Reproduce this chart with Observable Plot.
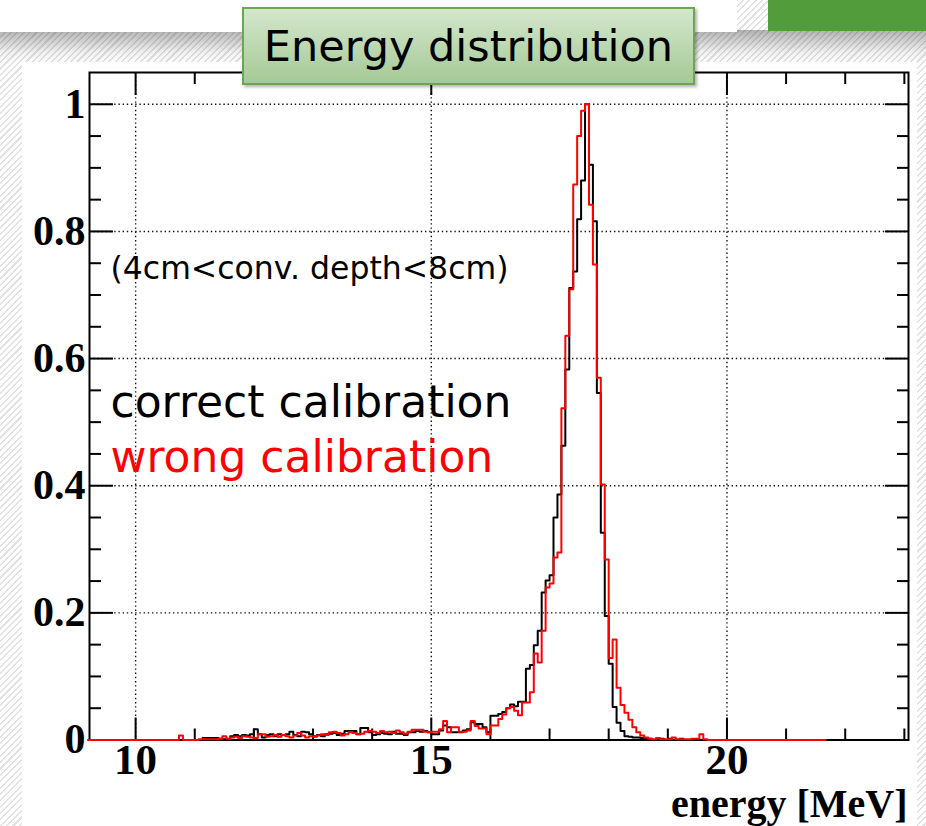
<!DOCTYPE html>
<html><head><meta charset="utf-8">
<script src="https://cdn.jsdelivr.net/npm/d3@7"></script>
<script src="https://cdn.jsdelivr.net/npm/@observablehq/plot@0.6"></script>
<style>
html,body{margin:0;padding:0;}
body{width:926px;height:826px;position:relative;overflow:hidden;
 background:repeating-linear-gradient(135deg,#ffffff 0px,#ffffff 3px,#e2e2e2 3px,#e2e2e2 4.5px);}
#shadow{position:absolute;left:0;top:30px;width:926px;height:34px;background:linear-gradient(to bottom,rgba(0,0,0,0.30),rgba(0,0,0,0.06) 65%,rgba(0,0,0,0));}
#whitetop{position:absolute;left:0;top:0;width:737px;height:32px;background:#fff;}
#greentop{position:absolute;left:768px;top:0;width:158px;height:31px;background:#539c3b;}
#panel{position:absolute;left:22px;top:62px;width:895px;height:764px;background:#fff;}
#chart{position:absolute;left:0;top:0;}
#title{position:absolute;left:242px;top:7px;width:449px;height:74px;border:2px solid #6aa84f;
 background:linear-gradient(#d4e7cc,#a5c996);box-shadow:2px 2px 3px rgba(0,0,0,0.3);
 font-family:"DejaVu Sans";font-size:43px;line-height:74px;text-align:center;color:#000;}
</style></head><body>
<div id="shadow"></div><div id="whitetop"></div><div id="greentop"></div><div id="panel"></div>
<div id="chart"></div>
<div id="title">Energy distribution</div>
<script>
// Histogram binning: bins of 1/15 MeV, first listed bin starts at 158/15 MeV
const binWidth = 1 / 15;
const binStart = 158 / 15;
const histRange = [9.2, 21.667];
// correct calibration (black), normalised to peak = 1
const correctCal = [
 0,0,0,0,0,0,0,0,0,0.003,
 0.003,0.003,0.003,0.002,0.001,0.002,0.006,0.008,0.006,0.008,
 0.007,0.009,0.017,0.009,0.004,0.008,0.009,0.006,0.009,0.008,
 0.009,0.013,0.008,0.006,0.013,0.012,0.009,0.006,0.008,0.006,
 0.009,0.010,0.011,0.008,0.010,0.014,0.014,0.014,0.009,0.019,
 0.019,0.012,0.008,0.009,0.011,0.010,0.009,0.013,0.010,0.010,
 0.008,0.012,0.012,0.014,0.013,0.014,0.012,0.009,0.009,0.015,
 0.023,0.020,0.012,0.012,0.012,0.015,0.017,0.028,0.025,0.025,
 0.020,0.012,0.038,0.038,0.041,0.044,0.050,0.056,0.053,0.060,
 0.060,0.112,0.118,0.149,0.172,0.232,0.251,0.259,0.350,0.386,
 0.463,0.583,0.711,0.737,0.819,0.880,1.000,0.905,0.816,0.546,
 0.326,0.195,0.120,0.052,0.027,0.014,0.006,0.005,0.004,0.004,
 0.003,0.003,0.002,0,0.002,0.002,0,0.002,0,0,
 0.002,0,0,0,0,0,0,0,0
];
// wrong calibration (red), normalised to peak = 1
const wrongCal = [
 0,0,0,0.007,0,0,0,0,0.001,0.001,
 0.001,0.001,0.001,0.002,0.006,0.002,0.004,0.005,0.003,0.006,
 0.005,0.004,0.003,0.009,0.009,0.005,0.006,0.008,0.005,0.008,
 0.006,0.004,0.007,0.011,0.007,0.004,0.006,0.005,0.007,0.009,
 0.008,0.012,0.013,0.011,0.007,0.009,0.012,0.011,0.009,0.010,
 0.013,0.014,0.013,0.011,0.014,0.012,0.013,0.011,0.015,0.012,
 0.010,0.013,0.016,0.016,0.016,0.013,0.012,0.013,0.013,0.017,
 0.030,0.012,0.020,0.020,0.013,0.013,0.015,0.030,0.022,0.018,
 0.018,0.009,0.023,0.023,0.033,0.040,0.050,0.052,0.046,0.039,
 0.059,0.059,0.075,0.136,0.122,0.172,0.240,0.246,0.287,0.295,
 0.522,0.636,0.709,0.874,0.950,0.990,1.000,0.842,0.748,0.570,
 0.402,0.284,0.129,0.158,0.082,0.055,0.043,0.032,0.020,0.012,
 0.007,0.004,0.002,0.001,0.003,0.001,0.001,0.001,0.004,0.001,
 0.001,0.001,0.001,0.002,0.002,0.009,0.001,0,0
];
const xMajor = [10, 15, 20];
const xMinor = [11, 12, 13, 14, 16, 17, 18, 19, 21, 22, 23];
const yMajor = [0, 0.2, 0.4, 0.6, 0.8, 1];
const yMinor = [0.05,0.1,0.15,0.25,0.3,0.35,0.45,0.5,0.55,0.65,0.7,0.75,0.85,0.9,0.95];
const xTitle = "energy [MeV]";
const notes = ["(4cm<conv. depth<8cm)", "correct calibration", "wrong calibration"];

function steps(values) {
  const pts = [{E: histRange[0], v: 0}];
  values.forEach((v, i) => pts.push({E: binStart + i * binWidth, v}));
  pts.push({E: binStart + values.length * binWidth, v: 0});
  pts.push({E: histRange[1], v: 0});
  return pts;
}

const serif = "Liberation Serif, Times New Roman, serif";
const tickOpts = {tickFormat: () => "", label: null, strokeWidth: 2, stroke: "#000"};
const chart = Plot.plot({
  width: 926, height: 826,
  marginLeft: 89, marginRight: 18, marginTop: 72, marginBottom: 86.5,
  x: {domain: [9.22, 23.07], label: null},
  y: {domain: [0, 1.05], label: null},
  style: {background: "transparent", overflow: "visible"},
  marks: [
    Plot.gridX(xMajor, {stroke: "#111", strokeOpacity: 1, strokeWidth: 1.4, strokeDasharray: "1.4,2.8"}),
    Plot.gridY(yMajor.filter(d => d > 0), {stroke: "#111", strokeOpacity: 1, strokeWidth: 1.4, strokeDasharray: "1.4,2.8"}),
    Plot.axisX(xMajor, {...tickOpts, anchor: "bottom", tickSize: 22, insetBottom: 22}),
    Plot.axisX(xMinor, {...tickOpts, anchor: "bottom", tickSize: 11, insetBottom: 11}),
    Plot.axisX(xMajor, {...tickOpts, anchor: "top", tickSize: 22, insetTop: 22}),
    Plot.axisX(xMinor, {...tickOpts, anchor: "top", tickSize: 11, insetTop: 11}),
    Plot.axisY(yMajor, {...tickOpts, anchor: "left", tickSize: 24, insetLeft: 24}),
    Plot.axisY(yMinor, {...tickOpts, anchor: "left", tickSize: 12, insetLeft: 12}),
    Plot.axisY(yMajor, {...tickOpts, anchor: "right", tickSize: 24, insetRight: 24}),
    Plot.axisY(yMinor, {...tickOpts, anchor: "right", tickSize: 12, insetRight: 12}),
    Plot.axisX(xMajor, {anchor: "bottom", tickSize: 0, tickPadding: 3, label: null,
      fontSize: 43, fontWeight: "bold", fontFamily: serif, fill: "#000", tickFormat: d => String(d)}),
    Plot.axisY(yMajor, {anchor: "left", tickSize: 0, tickPadding: 4, label: null,
      fontSize: 42, fontWeight: "bold", fontFamily: serif, fill: "#000",
      tickFormat: d => (d === 0 || d === 1) ? String(d) : d.toFixed(1)}),
    Plot.frame({stroke: "#000", strokeWidth: 2}),
    Plot.line(steps(correctCal), {x: "E", y: "v", curve: "step-after", stroke: "#000", strokeWidth: 2}),
    Plot.line(steps(wrongCal), {x: "E", y: "v", curve: "step-after", stroke: "#ff0000", strokeWidth: 2}),
    Plot.text([xTitle], {text: d => d, frameAnchor: "bottom-right", textAnchor: "end", dx: -1, dy: 76.5,
      fontSize: 40, fontWeight: "bold", fontFamily: serif, fill: "#000"}),
    Plot.text([notes[0]], {text: d => d, frameAnchor: "top-left", textAnchor: "start", dx: 21, dy: 184.5,
      fontSize: 31.5, fontFamily: "DejaVu Sans", fill: "#000"}),
    Plot.text([notes[1]], {text: d => d, frameAnchor: "top-left", textAnchor: "start", dx: 21, dy: 313.5,
      fontSize: 44, fontFamily: "DejaVu Sans", fill: "#000"}),
    Plot.text([notes[2]], {text: d => d, frameAnchor: "top-left", textAnchor: "start", dx: 21, dy: 368.5,
      fontSize: 44, fontFamily: "DejaVu Sans", fill: "#ff0000"})
  ]
});
document.getElementById("chart").appendChild(chart);
</script>
</body></html>
